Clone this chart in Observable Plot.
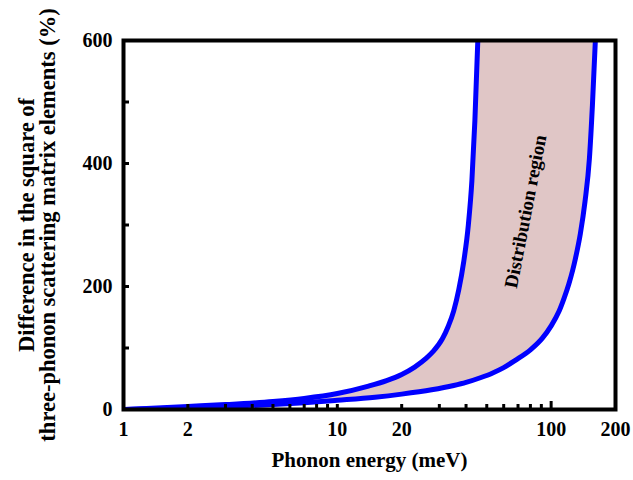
<!DOCTYPE html>
<html>
<head>
<meta charset="utf-8">
<script src="https://cdn.jsdelivr.net/npm/d3@7"></script>
<script src="https://cdn.jsdelivr.net/npm/@observablehq/plot@0.6"></script>
<style>
  html, body { margin: 0; padding: 0; background: white; }
</style>
</head>
<body>
<div id="chart"></div>
<script>
// Upper (steeper) boundary curve
const upperX = [1, 2, 3, 5, 7, 10, 14, 17, 20, 23, 26, 28, 31, 33, 35, 37, 39, 41, 42.6, 44, 45.4];
const upperY = [0, 5, 8, 13, 18, 26, 38, 47, 57, 69, 83, 94, 115, 135, 160, 195, 240, 300, 372, 470, 600];
// Lower boundary curve
const lowerX = [1, 2, 3, 5, 7, 10, 15, 20, 27.6, 35, 40, 47, 53, 60, 68, 80, 91, 100, 109, 115, 121, 126, 130, 137, 144, 151, 156, 161];
const lowerY = [0, 3, 5, 8, 11, 15, 20, 25, 32, 39, 44, 52, 59, 68, 80, 97, 116, 136, 160, 181, 204, 226, 246, 286, 338, 408, 495, 600];

const xLabelTicks = [1, 2, 10, 20, 100, 200];
const xInnerTicks = [2, 3, 4, 5, 6, 7, 8, 9, 10, 20, 30, 40, 50, 60, 70, 80, 90];
const xLongTicks = [100];
const yLabelTicks = [0, 200, 400, 600];
const yInnerTicks = [100, 200, 300, 400, 500];
const xDomain = [1, 200];
const yDomain = [0, 600];

const xTitle = "Phonon energy (meV)";
const yTitle = "Difference in the square of\nthree-phonon scattering matrix elements (%)";
const regionLabel = ["Distribution region"];
const regionLabelPos = {x: 76, y: 322};

const upper = upperX.map((x, i) => ({x, y: upperY[i]}));
const lower = lowerX.map((x, i) => ({x, y: lowerY[i]}));

const serif = "'Liberation Serif', 'Times New Roman', serif";
const blue = "#0000ff";
const pink = "#e0c6c6";

const chart = Plot.plot({
  width: 633,
  height: 480,
  marginLeft: 123,
  marginRight: 18,
  marginTop: 40,
  marginBottom: 71,
  x: {type: "log", domain: xDomain},
  y: {domain: yDomain},
  style: {fontFamily: serif, fontWeight: "bold", fontSize: "20px", background: "white", color: "black"},
  marks: [
    // pink above the lower curve, then white above the upper curve -> band between them
    Plot.areaY(lower, {x: "x", y1: "y", y2: () => yDomain[1], fill: pink, curve: "monotone-x"}),
    Plot.areaY(upper, {x: "x", y1: "y", y2: () => yDomain[1], fill: "white", curve: "monotone-x"}),
    Plot.line(upper, {x: "x", y: "y", stroke: blue, strokeWidth: 5, curve: "monotone-x", clip: true}),
    Plot.line(lower, {x: "x", y: "y", stroke: blue, strokeWidth: 5, curve: "monotone-x", clip: true}),
    Plot.text(regionLabel, {x: () => regionLabelPos.x, y: () => regionLabelPos.y, text: d => d, rotate: -79, fontSize: 19, fontWeight: "bold", fill: "black"}),
    Plot.axisX({ticks: xInnerTicks, tickSize: -5, tickFormat: () => "", label: null, strokeWidth: 3}),
    Plot.axisX({ticks: xLongTicks, tickSize: -8, tickFormat: () => "", label: null, strokeWidth: 3}),
    Plot.axisX({ticks: xLabelTicks, tickSize: 0, tickPadding: 12, tickFormat: d => String(d), label: null, fontSize: 20}),
    Plot.axisY({ticks: yInnerTicks, tickSize: -6, tickFormat: () => "", label: null, strokeWidth: 3}),
    Plot.axisY({ticks: yLabelTicks, tickSize: 0, tickPadding: 11, tickFormat: d => String(d), label: null, fontSize: 20}),
    Plot.text([xTitle], {frameAnchor: "bottom", dy: 57, text: d => d, fontSize: 21, fontWeight: "bold", fill: "black"}),
    Plot.text([yTitle], {frameAnchor: "left", textAnchor: "middle", dx: -86, rotate: -90, text: d => d, fontSize: 22.5, lineHeight: 0.97, fontWeight: "bold", fill: "black"}),
    Plot.frame({stroke: "black", strokeWidth: 4})
  ]
});
document.getElementById("chart").appendChild(chart);
</script>
</body>
</html>
